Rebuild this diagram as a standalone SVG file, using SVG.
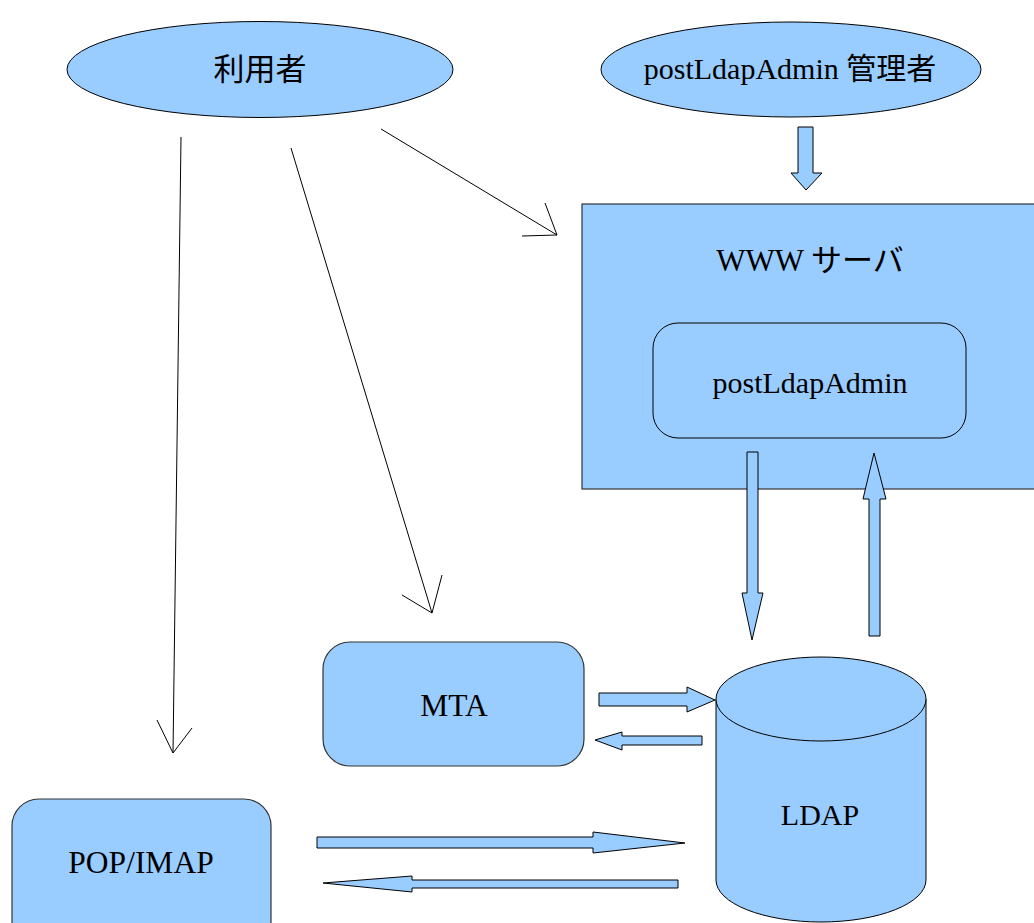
<svg xmlns="http://www.w3.org/2000/svg" width="1034" height="923" viewBox="0 0 1034 923">
<style>
.n{fill:#99ccff;stroke:#000;stroke-width:1}
.b{fill:#99ccff;stroke:#333;stroke-width:1.2}
.t{font-family:"Liberation Serif","Noto Sans CJK JP",serif;font-size:30px;fill:#000;text-anchor:middle}
.l{fill:none;stroke:#000;stroke-width:1}
</style>
<rect width="1034" height="923" fill="#fff"/>
<g id="user">
<ellipse class="n" cx="260" cy="69.5" rx="193" ry="48"/>
<text class="t" x="260" y="80" style="font-size:31px">利用者</text>
</g>
<g id="admin">
<ellipse class="n" cx="791" cy="69.5" rx="190" ry="47.5"/>
<text class="t" x="790" y="79">postLdapAdmin 管理者</text>
</g>
<g id="www">
<rect class="b" x="582" y="204" width="460" height="285"/>
<text class="t" x="810" y="271" style="font-size:31px">WWW サーバ</text>
</g>
<g id="postLdapAdmin">
<rect class="n" x="653" y="323" width="313" height="115" rx="25"/>
<text class="t" x="810" y="393">postLdapAdmin</text>
</g>
<g id="mta">
<rect class="b" x="323" y="642" width="261" height="124" rx="27"/>
<text class="t" x="454" y="716" style="font-size:31.5px">MTA</text>
</g>
<g id="popimap">
<rect class="b" x="12" y="799" width="259" height="150" rx="27"/>
<text class="t" x="141" y="873" style="font-size:31.5px">POP/IMAP</text>
</g>
<g id="ldap">
<path class="n" d="M716,699 L716,880 A105,42 0 0 0 926,880 L926,699 Z"/>
<ellipse class="n" cx="821" cy="699" rx="105" ry="42"/>
<text class="t" x="820" y="825">LDAP</text>
</g>
<g id="connectors">
<path class="l" d="M181,137 L173,753 M157,720 L173,753 L192,728"/>
<path class="l" d="M291,148 L432,613 M402,595 L432,613 L442,575"/>
<path class="l" d="M381,129 L557,235 M522,236 L557,235 L545,203"/>
<polygon class="n" points="798,127 813,127 813,173 822,173 806,190 791,173 798,173"/>
<polygon class="n" points="747,452 758,452 758,593 763,593 752,640 742,593 747,593"/>
<polygon class="n" points="869,636 880,636 880,499 886,499 874,453 863,499 869,499"/>
<polygon class="n" points="599,693 687,693 687,687 715,700 687,712 687,706 599,706"/>
<polygon class="n" points="702,736 622,736 622,732 595,740 622,750 622,745 702,745"/>
<polygon class="n" points="317,837 593,837 593,832 685,843 593,853 593,848 317,848"/>
<polygon class="n" points="678,880 412,880 412,876 323,883 412,892 412,888 678,888"/>
</g>
</svg>
